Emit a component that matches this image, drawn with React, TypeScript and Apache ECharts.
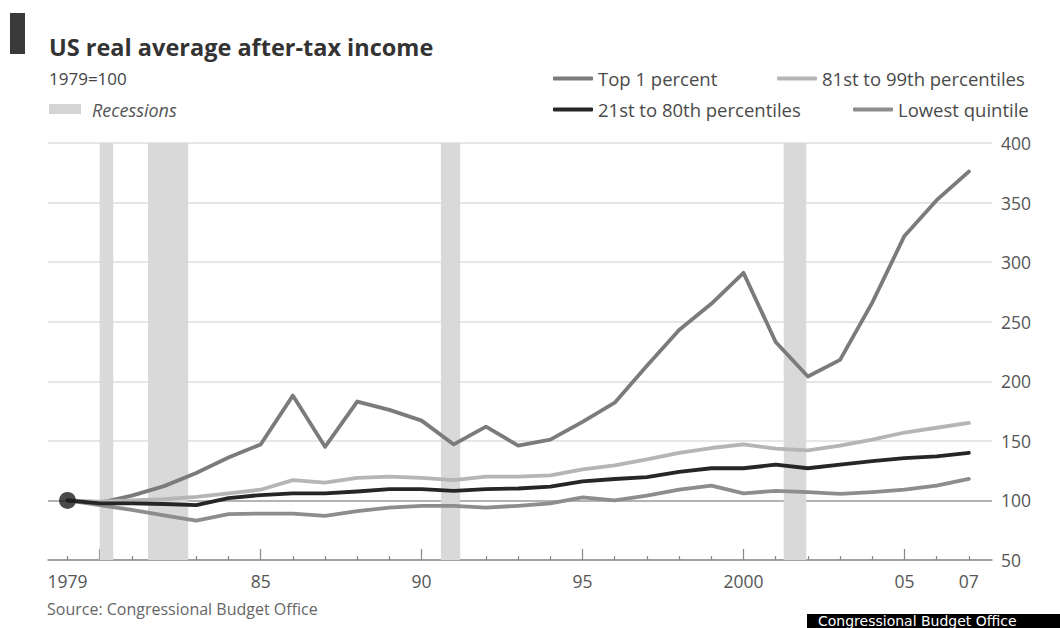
import React, { useEffect, useRef } from "react";
import * as echarts from "echarts";

const years = [1979, 1980, 1981, 1982, 1983, 1984, 1985, 1986, 1987, 1988, 1989, 1990, 1991, 1992, 1993, 1994, 1995, 1996, 1997, 1998, 1999, 2000, 2001, 2002, 2003, 2004, 2005, 2006, 2007];
const top1 = [100, 98, 104, 112, 123, 136, 147, 188, 145, 183, 176, 167, 147, 162, 146, 151, 166, 182, 213, 243, 265, 291, 233, 204, 218, 266, 322, 352, 376];
const p81to99 = [100, 99, 100, 101, 103, 106, 109, 117, 115, 119, 120, 119, 117, 120, 120, 121, 126, 129.5, 134.5, 140, 144, 147, 143.5, 142, 146, 151, 157, 161, 165];
const p21to80 = [100, 97.5, 97.5, 97, 96, 102, 104.5, 106, 106, 107.5, 109.5, 109.5, 108, 109.5, 110, 111.5, 116, 118, 119.5, 124, 127, 127, 130, 127, 130, 133, 135.5, 137, 140];
const lowest = [100, 96, 92, 87.5, 83, 88.5, 89, 89, 87, 91, 94, 95.5, 95.5, 94, 95.5, 97.5, 102.5, 100, 104, 109, 112.5, 106, 108, 107, 105.5, 107, 109, 112.5, 118];

const recessions = [
  [1980.0, 1980.42],
  [1981.5, 1982.75],
  [1990.6, 1991.2],
  [2001.25, 2001.95],
];

const xLabelYears = [1979, 1985, 1990, 1995, 2000, 2005, 2007];
const majorTickYears = [1980, 1985, 1990, 1995, 2000, 2005];
const minorTickYears = [1979, 1981, 1982, 1983, 1984, 1986, 1987, 1988, 1989, 1991, 1992, 1993, 1994, 1996, 1997, 1998, 1999, 2001, 2002, 2003, 2004, 2006, 2007];
const yTicks = { min: 50, max: 400, interval: 50 };

const seriesNames = ["Top 1 percent", "81st to 99th percentiles", "21st to 80th percentiles", "Lowest quintile"];
const seriesColors = ["#7b7b7b", "#b5b5b5", "#262626", "#8d8d8d"];

const FONT = "Open Sans";

export default function App() {
  const ref = useRef<HTMLDivElement>(null);

  useEffect(() => {
    if (!ref.current) return;
    const chart = echarts.init(ref.current, null, { renderer: "svg" });
    const xMin = 1978.394;
    const xMax = 2007.72;
    const allSeries = [top1, p81to99, p21to80, lowest];

    const lineSeries = allSeries.map((vals, i) => ({
      name: seriesNames[i],
      type: "line",
      data: years.map((y, j) => [y, vals[j]]),
      showSymbol: false,
      symbol: "none",
      z: 3 + (i === 2 ? 1 : 0),
      lineStyle: { color: seriesColors[i], width: 3.8, cap: "round", join: "round" },
      itemStyle: { color: seriesColors[i] },
    }));

    const legendPos = [
      { left: 553, top: 69 },
      { left: 777, top: 69 },
      { left: 553, top: 100 },
      { left: 853, top: 100 },
    ];

    const option = {
      animation: false,
      backgroundColor: "#ffffff",
      textStyle: { fontFamily: FONT },
      title: {
        text: "US real average after-tax income",
        left: 44,
        top: 30,
        textStyle: { fontFamily: FONT, fontSize: 23.5, fontWeight: "bold", color: "#333" },
      },
      legend: seriesNames.map((n, i) => ({
        data: [n],
        left: legendPos[i].left,
        top: legendPos[i].top,
        padding: 0,
        icon: "roundRect",
        itemWidth: 40,
        itemHeight: 4,
        itemGap: 10,
        selectedMode: false,
        textStyle: { fontFamily: FONT, fontSize: 18.5, color: "#4a4a4a" },
      })),
      grid: { left: 48, right: 68, top: 143, bottom: 68, containLabel: false },
      xAxis: [
        {
          type: "value",
          min: xMin,
          max: xMax,
          position: "bottom",
          axisLine: { show: true, lineStyle: { color: "#9a9a9a", width: 1.5 } },
          axisTick: { show: true, inside: true, length: 11, customValues: majorTickYears, lineStyle: { color: "#888", width: 1.2 } },
          axisLabel: {
            show: true,
            customValues: xLabelYears,
            margin: 12,
            fontFamily: FONT,
            fontSize: 17.5,
            color: "#555",
            formatter: (v: number) => (v === 1979 || v === 2000 ? String(v) : String(v).slice(2)),
          },
          splitLine: { show: false },
        },
        {
          type: "value",
          min: xMin,
          max: xMax,
          position: "bottom",
          axisLine: { show: false },
          axisTick: { show: true, inside: true, length: 4, customValues: minorTickYears, lineStyle: { color: "#888", width: 1.2 } },
          axisLabel: { show: false },
          splitLine: { show: false },
        },
      ],
      yAxis: {
        type: "value",
        position: "right",
        min: yTicks.min,
        max: yTicks.max,
        interval: yTicks.interval,
        axisLine: { show: false },
        axisTick: { show: false },
        axisLabel: { margin: 9, fontFamily: FONT, fontSize: 17.5, color: "#555" },
        splitLine: {
          show: true,
          lineStyle: {
            color: ["#9a9a9a", "#9a9a9a", "#dedede", "#dedede", "#dedede", "#dedede", "#dedede", "#dedede"],
            width: 1.5,
          },
        },
      },
      series: [
        {
          name: "Recessions",
          type: "line",
          data: [[1979, 100]],
          showSymbol: false,
          symbol: "none",
          lineStyle: { opacity: 0 },
          z: 1,
          silent: true,
          markArea: {
            silent: true,
            itemStyle: { color: "#d9d9d9" },
            data: recessions.map((r) => [{ xAxis: r[0] }, { xAxis: r[1] }]),
          },
        },
        ...lineSeries,
        {
          name: "start",
          type: "scatter",
          data: [[years[0], top1[0]]],
          symbolSize: 17,
          itemStyle: { color: "#1e1e1e" },
          z: 6,
          silent: true,
        },
      ],
      graphic: [
        { type: "rect", left: 10, top: 13, shape: { width: 15, height: 41 }, style: { fill: "#3a3a3a" } },
        { type: "text", x: 49, y: 78, style: { text: "1979=100", font: `17px "${FONT}"`, fill: "#444", verticalAlign: "middle" } },
        { type: "rect", left: 49, top: 104, shape: { width: 32, height: 10 }, style: { fill: "#d4d4d4" } },
        { type: "text", x: 92, y: 110, style: { text: "Recessions", font: `italic 18px "${FONT}"`, fill: "#555", verticalAlign: "middle" } },
        { type: "text", x: 47, y: 609, style: { text: "Source: Congressional Budget Office", font: `16px "${FONT}"`, fill: "#666", verticalAlign: "middle" } },
        { type: "rect", left: 807, top: 614, shape: { width: 253, height: 14 }, style: { fill: "#000" } },
        { type: "text", x: 818, y: 620.5, style: { text: "Congressional Budget Office", font: `14px "DejaVu Sans"`, fill: "#fff", verticalAlign: "middle" } },
      ],
    };

    chart.setOption(option as any);
    return () => chart.dispose();
  }, []);

  return <div ref={ref} style={{ position: "fixed", left: 0, top: 0, width: 1060, height: 628 }} />;
}
